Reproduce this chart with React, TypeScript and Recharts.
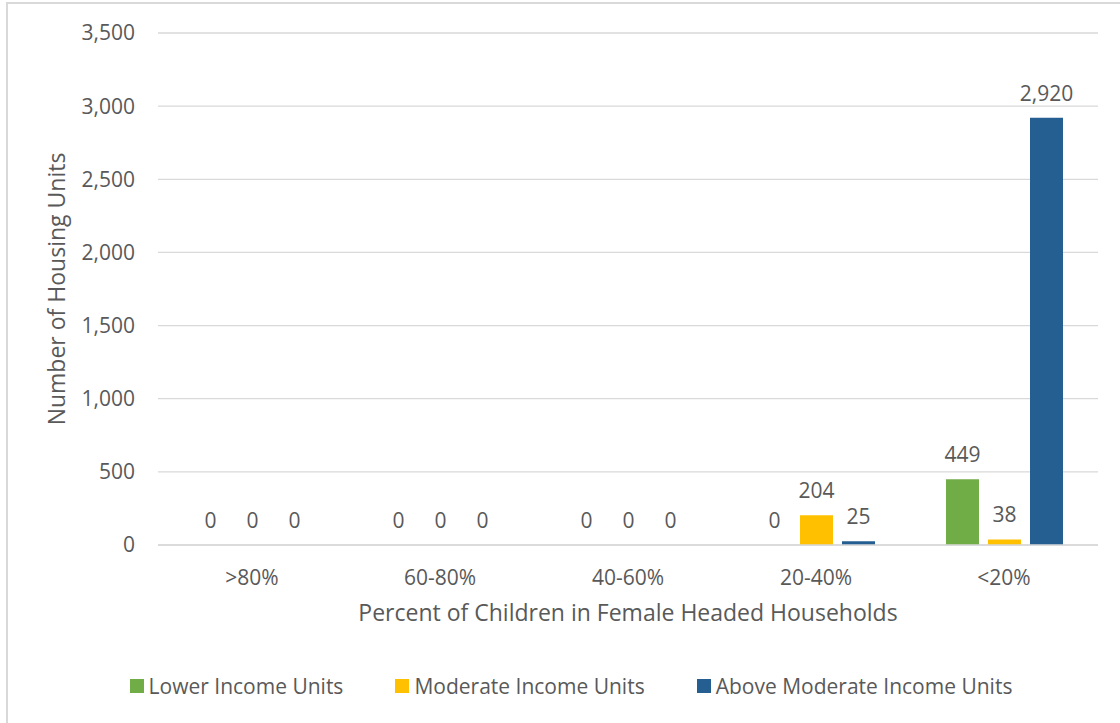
import { BarChart, Bar, XAxis, YAxis, CartesianGrid, Legend, LabelList, Label } from 'recharts';

const categories = ['>80%', '60-80%', '40-60%', '20-40%', '<20%'];
const seriesNames = ['Lower Income Units', 'Moderate Income Units', 'Above Moderate Income Units'];
const lowerIncome = [0, 0, 0, 0, 449];
const moderateIncome = [0, 0, 0, 204, 38];
const aboveModerate = [0, 0, 0, 25, 2920];
const yTicks = [0, 500, 1000, 1500, 2000, 2500, 3000, 3500];

const TEXT = '#595959';
const GRID = '#d9d9d9';
const FONT = '"Open Sans", sans-serif';
const FS = 21;
const TITLE_FS = 23;

const data = categories.map((name, i) => ({
  name,
  lower: lowerIncome[i],
  moderate: moderateIncome[i],
  above: aboveModerate[i],
}));

const fmt = (v: any) => Number(v).toLocaleString('en-US');

// zero-value bars get a hair of height so their "0" labels still show
const tinyIfZero = (v: any) => (Number(v) === 0 ? 0.01 : 0);

// Legend laid out like the Excel original: small squares, wide spacing
const renderLegend = (props: any) => {
  const items = [...(props.payload || [])].sort(
    (a: any, b: any) => seriesNames.indexOf(a.value) - seriesNames.indexOf(b.value)
  );
  return (
    <div style={{ display: 'flex', justifyContent: 'center', gap: 52, fontFamily: FONT, fontSize: FS, color: TEXT, lineHeight: '28px' }}>
      {items.map((entry: any) => (
        <div key={entry.value} style={{ display: 'flex', alignItems: 'center' }}>
          <span style={{ width: 14, height: 14, background: entry.color, marginRight: 5, display: 'inline-block' }} />
          <span>{entry.value}</span>
        </div>
      ))}
    </div>
  );
};

export default function App() {
  return (
    <div style={{ position: 'absolute', left: 0, top: 0, width: 1120, height: 723, background: '#fff', overflow: 'hidden' }}>
      <div style={{ position: 'absolute', left: 6, top: 2, width: 1200, height: 800, borderTop: `2px solid ${GRID}`, borderLeft: `2px solid ${GRID}` }} />
      <BarChart
        width={1120}
        height={723}
        data={data}
        margin={{ top: 33, right: 22, bottom: 78, left: 0 }}
        barGap={9}
        style={{ fontFamily: FONT }}
      >
        <CartesianGrid vertical={false} stroke={GRID} strokeWidth={1.3} />
        <XAxis
          dataKey="name"
          axisLine={{ stroke: GRID, strokeWidth: 1.3 }}
          tickLine={false}
          tickSize={0}
          tickMargin={25}
          height={100}
          tick={{ fill: TEXT, fontSize: FS }}
        >
          <Label value="Percent of Children in Female Headed Households" position="insideTop" offset={60} fill={TEXT} fontSize={TITLE_FS} />
        </XAxis>
        <YAxis
          width={158}
          domain={[0, 3500]}
          ticks={yTicks}
          axisLine={false}
          tickLine={false}
          tickSize={0}
          tickMargin={23}
          tickFormatter={fmt}
          tick={{ fill: TEXT, fontSize: FS }}
        >
          <Label value="Number of Housing Units" angle={-90} position="insideLeft" offset={57} fill={TEXT} fontSize={TITLE_FS} style={{ textAnchor: 'middle' }} />
        </YAxis>
        <Legend
          content={renderLegend}
          wrapperStyle={{ position: 'absolute', left: 20, top: 672, width: 1102, height: 0 }}
        />
        <Bar dataKey="lower" name={seriesNames[0]} fill="#70ad47" barSize={33} minPointSize={tinyIfZero} isAnimationActive={false}>
          <LabelList dataKey="lower" position="top" offset={17} formatter={fmt} fill={TEXT} fontSize={FS} />
        </Bar>
        <Bar dataKey="moderate" name={seriesNames[1]} fill="#ffc000" barSize={33} minPointSize={tinyIfZero} isAnimationActive={false}>
          <LabelList dataKey="moderate" position="top" offset={17} formatter={fmt} fill={TEXT} fontSize={FS} />
        </Bar>
        <Bar dataKey="above" name={seriesNames[2]} fill="#255e91" barSize={33} minPointSize={tinyIfZero} isAnimationActive={false}>
          <LabelList dataKey="above" position="top" offset={17} formatter={fmt} fill={TEXT} fontSize={FS} />
        </Bar>
      </BarChart>
    </div>
  );
}
